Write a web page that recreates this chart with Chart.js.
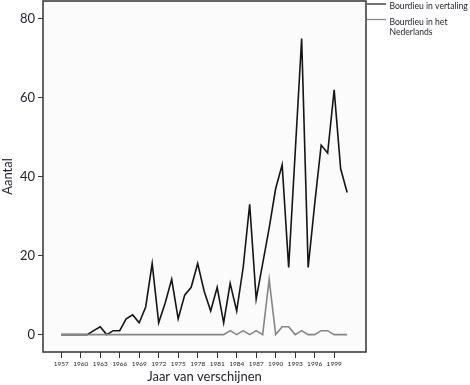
<!DOCTYPE html>
<html lang="nl">
<head>
<meta charset="utf-8">
<title>Bourdieu in vertaling</title>
<script src="https://cdn.jsdelivr.net/npm/chart.js@4"></script>
<style>
    html, body { margin: 0; padding: 0; background: #fff; }
    #wrap { width: 470px; height: 385px; position: relative; }
</style>
</head>
<body>
<div id="wrap"><canvas id="chart"></canvas></div>
<script>
// Data
const years = [1957, 1958, 1959, 1960, 1961, 1962, 1963, 1964, 1965, 1966,
    1967, 1968, 1969, 1970, 1971, 1972, 1973, 1974, 1975, 1976,
    1977, 1978, 1979, 1980, 1981, 1982, 1983, 1984, 1985, 1986,
    1987, 1988, 1989, 1990, 1991, 1992, 1993, 1994, 1995, 1996,
    1997, 1998, 1999, 2000, 2001];
const vertaling = [0, 0, 0, 0, 0, 1, 2, 0, 1, 1,
    4, 5, 3, 7, 18, 3, 8, 14, 4, 10,
    12, 18, 11, 6, 12, 3, 13, 6, 17, 33,
    9, 18, 27, 37, 43, 17, 46, 75, 17, 33,
    48, 46, 62, 42, 36];
const nederlands = [0, 0, 0, 0, 0, 0, 0, 0, 0, 0,
    0, 0, 0, 0, 0, 0, 0, 0, 0, 0,
    0, 0, 0, 0, 0, 0, 1, 0, 1, 0,
    1, 0, 14, 0, 2, 2, 0, 1, 0, 0,
    1, 1, 0, 0, 0];
const xTicks = [1957, 1960, 1963, 1966, 1969, 1972, 1975, 1978, 1981, 1984, 1987, 1990, 1993, 1996, 1999];
const yTicks = [0, 20, 40, 60, 80];
const legendLabels = [['Bourdieu in vertaling'], ['Bourdieu in het', 'Nederlands']];

const textColor = '#23232f';
const fontName = 'Lato, "Open Sans", sans-serif';

// Hintergrund + Rahmen vom Plotbereich
const framePlugin = {
    id: 'frame',
    beforeDraw(chart) {
        const { ctx, chartArea: a } = chart;
        ctx.save();
        ctx.fillStyle = '#fbfbfb';
        ctx.fillRect(a.left, a.top, a.right - a.left, a.bottom - a.top);
        ctx.restore();
    },
    afterDraw(chart) {
        const { ctx, chartArea: a } = chart;
        ctx.save();
        ctx.strokeStyle = '#333';
        ctx.lineWidth = 1.5;
        ctx.strokeRect(a.left, a.top, a.right - a.left, a.bottom - a.top);
        ctx.restore();
    }
};

// Legende rechts oben, ausserhalb vom Plot
const legendPlugin = {
    id: 'sideLegend',
    afterDraw(chart) {
        const { ctx, chartArea: a } = chart;
        const rows = [4, 19.5];
        ctx.save();
        ctx.font = '8.6px ' + fontName;
        ctx.textBaseline = 'middle';
        chart.data.datasets.forEach((ds, i) => {
            const y = rows[i];
            ctx.strokeStyle = ds.borderColor;
            ctx.lineWidth = 1.2;
            ctx.beginPath();
            ctx.moveTo(a.right + 1, y);
            ctx.lineTo(a.right + 20, y);
            ctx.stroke();
            ctx.fillStyle = textColor;
            legendLabels[i].forEach((line, j) => {
                ctx.fillText(line, a.right + 23.5, y + 2.5 + j * 10);
            });
        });
        ctx.restore();
    }
};

new Chart(document.getElementById('chart'), {
    type: 'line',
    data: {
        datasets: [{
            label: legendLabels[0].join(' '),
            data: years.map((yr, i) => ({ x: yr, y: vertaling[i] })),
            borderColor: '#151515',
            borderWidth: 1.6,
            pointRadius: 0,
            tension: 0,
            order: 1
        }, {
            label: legendLabels[1].join(' '),
            data: years.map((yr, i) => ({ x: yr, y: nederlands[i] })),
            borderColor: '#858585',
            borderWidth: 1.6,
            pointRadius: 0,
            tension: 0,
            order: 0
        }]
    },
    options: {
        responsive: true,
        maintainAspectRatio: false,
        animation: false,
        layout: { padding: { top: 1, right: 104, left: 0, bottom: 0 } },
        plugins: {
            legend: { display: false },
            tooltip: { enabled: false }
        },
        scales: {
            x: {
                type: 'linear',
                min: 1954.2,
                max: 2003.9,
                afterBuildTicks: s => { s.ticks = xTicks.map(v => ({ value: v })); },
                afterFit: s => { s.height = 33; s.paddingLeft = 0; s.paddingRight = 0; },
                grid: { drawOnChartArea: false, drawTicks: true, tickLength: 6, color: '#333', tickColor: '#333' },
                border: { display: false },
                ticks: {
                    autoSkip: false,
                    maxRotation: 0,
                    padding: 2,
                    color: textColor,
                    font: { family: fontName, size: 6.5 },
                    callback: v => String(v)
                },
                title: {
                    display: true,
                    text: 'Jaar van verschijnen',
                    color: textColor,
                    font: { family: fontName, size: 13 },
                    padding: { top: 0, bottom: 0 }
                }
            },
            y: {
                min: -4.4,
                max: 84.5,
                afterBuildTicks: s => { s.ticks = yTicks.map(v => ({ value: v })); },
                afterFit: s => { s.width = 43; s.paddingTop = 0; s.paddingBottom = 0; },
                grid: { drawOnChartArea: false, drawTicks: true, tickLength: 5, color: '#333', tickColor: '#333' },
                border: { display: false },
                ticks: {
                    padding: 3,
                    color: textColor,
                    font: { family: fontName, size: 13 }
                },
                title: {
                    display: true,
                    text: 'Aantal',
                    color: textColor,
                    font: { family: fontName, size: 13 },
                    padding: { top: 0, bottom: 0 }
                }
            }
        }
    },
    plugins: [framePlugin, legendPlugin]
});
</script>
</body>
</html>
